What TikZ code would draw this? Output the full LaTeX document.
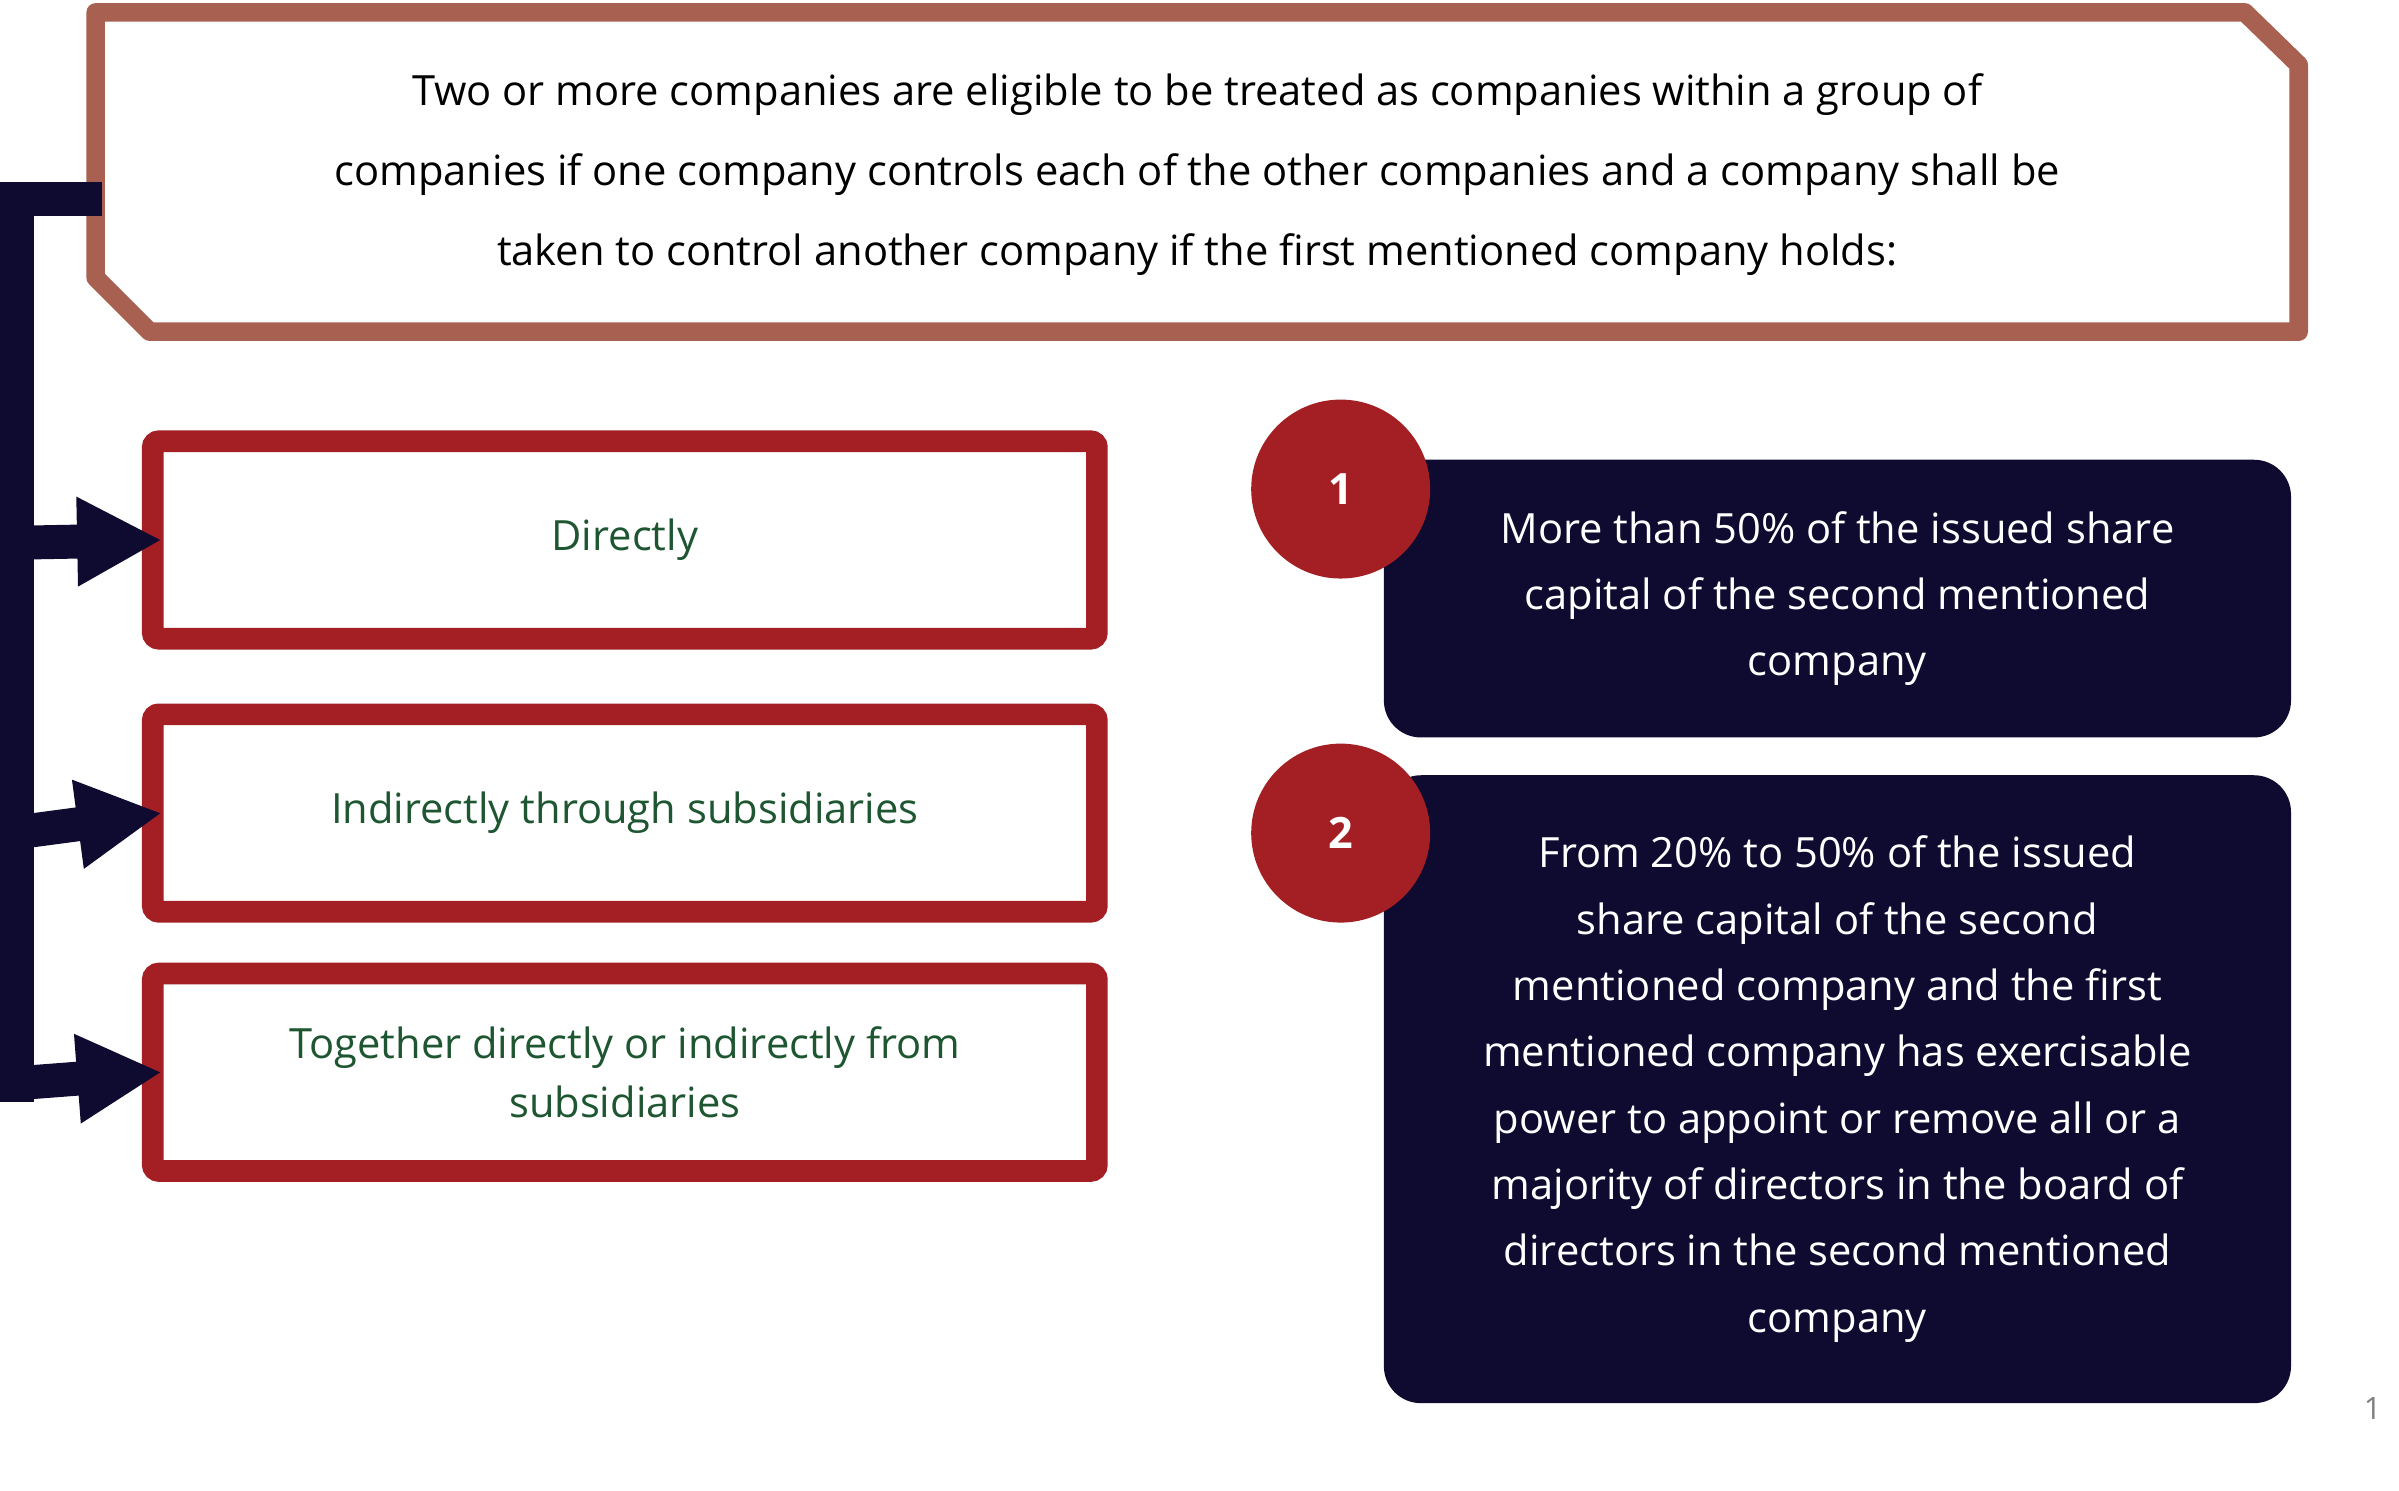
\documentclass[tikz,border=0pt]{standalone}
\usepackage{fontspec}
\setmainfont{Open Sans}
\usetikzlibrary{arrows.meta}
\definecolor{navy}{HTML}{0F0A30}
\definecolor{brick}{HTML}{A86050}
\definecolor{redb}{HTML}{A31F23}
\definecolor{greent}{HTML}{1E5631}
\tikzset{
  optbox/.style={draw=redb,line width=14pt,rounded corners=4pt,minimum width=612pt,align=center,font=\fontsize{27}{38}\selectfont,text=greent},
  darkbox/.style={fill=navy,rounded corners=24pt,minimum width=588pt,align=center,font=\fontsize{27}{43}\selectfont,text=white},
  numcirc/.style={circle,fill=redb,minimum size=116pt,text=white,font=\fontsize{28}{30}\selectfont\bfseries},
  conn/.style={navy,line width=22pt},
  arr/.style={conn,-{Triangle[length=55pt,width=54pt]}}
}
\begin{document}
\begin{tikzpicture}[x=1pt,y=-1pt]
\useasboundingbox (0,0) rectangle (1555,966);
% header
\draw[brick,line width=12pt,line join=round] (62,8) -- (1455,8) -- (1490,42) -- (1490,215) -- (97,215) -- (62,180) -- cycle;
\node[align=center,font=\fontsize{27}{52}\selectfont] (head) at (776,113)
 {Two or more companies are eligible to be treated as companies within a group of\\
  companies if one company controls each of the other companies and a company shall be\\
  taken to control another company if the first mentioned company holds:};
% option boxes
\node[optbox,minimum height=128pt] (b1) at (405,350) {Directly};
\node[optbox,minimum height=128pt] (b2) at (405,527) {Indirectly through subsidiaries};
\node[optbox,minimum height=128pt] (b3) at (405,695) {Together directly or indirectly from\\subsidiaries};
% bracket
\coordinate (top) at (66,129);
\draw[conn] (top) -- (0,129);
\draw[conn] (11,118) -- (11,714);
\draw[arr] (0,352) -- ([xshift=13pt]b1.west);
\draw[arr] (0,541) -- ([xshift=13pt]b2.west);
\draw[arr] (0,703) -- ([xshift=13pt]b3.west);
% right boxes
\node[darkbox,minimum height=180pt] (d1) at (1191,388) {More than 50\% of the issued share\\capital of the second mentioned\\company};
\node[darkbox,minimum height=407pt] (d2) at (1191,706) {From 20\% to 50\% of the issued\\share capital of the second\\mentioned company and the first\\mentioned company has exercisable\\power to appoint or remove all or a\\majority of directors in the board of\\directors in the second mentioned\\company};
\node[numcirc] (n1) at (869,317) {1};
\node[numcirc] (n2) at (869,540) {2};
\node[text=gray,font=\fontsize{20}{22}\selectfont] (pg) at (1538,913) {1};
\end{tikzpicture}
\end{document}
